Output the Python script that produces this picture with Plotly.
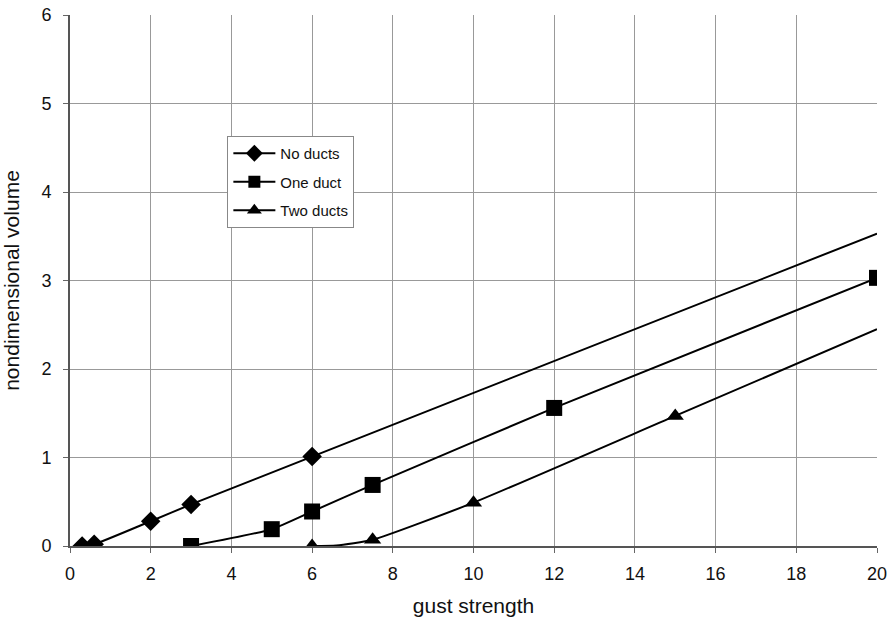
import plotly.graph_objects as go

x_no = [0.3, 0.6, 2, 3, 6, 20]
y_no = [0.0, 0.02, 0.28, 0.47, 1.01, 3.53]
m_no = [True, True, True, True, True, False]

x_one = [3, 5, 6, 7.5, 12, 20]
y_one = [0.0, 0.19, 0.39, 0.69, 1.56, 3.03]
m_one = [True, True, True, True, True, True]

x_two = [6, 6.6, 7.5, 10, 15, 20]
y_two = [0.0, 0.005, 0.07, 0.49, 1.47, 2.45]
m_two = [True, False, True, True, True, False]

x_ticks = list(range(0, 21, 2))
y_ticks = list(range(0, 7))

fig = go.Figure()

def add(name, xs, ys, mask, symbol, size, leg_size):
    fig.add_trace(go.Scatter(
        x=xs, y=ys, name=name, legendgroup=name, mode="lines+markers",
        showlegend=False,
        line=dict(color="black", width=2, shape="spline", smoothing=0.5),
        marker=dict(symbol=symbol, color="#000000", opacity=1,
                    size=[size if m else 0 for m in mask],
                    line=dict(width=0)),
    ))
    # legend entry (no data drawn)
    fig.add_trace(go.Scatter(
        x=[None], y=[None], name=name, legendgroup=name, mode="lines+markers",
        line=dict(color="black", width=2),
        marker=dict(symbol=symbol, color="#000000", size=leg_size,
                    line=dict(width=0)),
    ))

add("No ducts", x_no, y_no, m_no, "diamond", 15, 13)
add("One duct", x_one, y_one, m_one, "square", 16, 12)
add("Two ducts", x_two, y_two, m_two, "triangle-up", 15, 13)

fig.update_layout(
    width=890, height=620,
    margin=dict(l=70, r=13, t=15, b=74, autoexpand=False),
    plot_bgcolor="white", paper_bgcolor="white",
    font=dict(family="Liberation Sans, Arial", size=18, color="#111"),
    showlegend=True,
    legend=dict(x=0.195, y=0.772, xanchor="left", yanchor="top",
                bordercolor="#888", borderwidth=1, bgcolor="white",
                font=dict(size=15, color="#111"), itemwidth=42,
                tracegroupgap=6),
)
fig.update_xaxes(range=[0, 20], tickvals=x_ticks, showgrid=True,
                 gridcolor="#999", gridwidth=1, showline=True,
                 linecolor="#555", linewidth=2, ticks="outside",
                 ticklen=5, tickcolor="#666", zeroline=False, automargin=False,
                 ticklabelstandoff=5,
                 title=dict(text="gust strength", font=dict(size=21), standoff=16))
fig.update_yaxes(range=[0, 6], tickvals=y_ticks, showgrid=True,
                 gridcolor="#999", gridwidth=1, showline=True,
                 linecolor="#555", linewidth=2, ticks="outside",
                 ticklen=5, tickcolor="#666", zeroline=False, automargin=False,
                 ticklabelstandoff=8,
                 title=dict(text="nondimensional volume", font=dict(size=21), standoff=16))

fig.write_html("out.html", config={"displayModeBar": False},
               post_script="document.body.style.margin='0';")
